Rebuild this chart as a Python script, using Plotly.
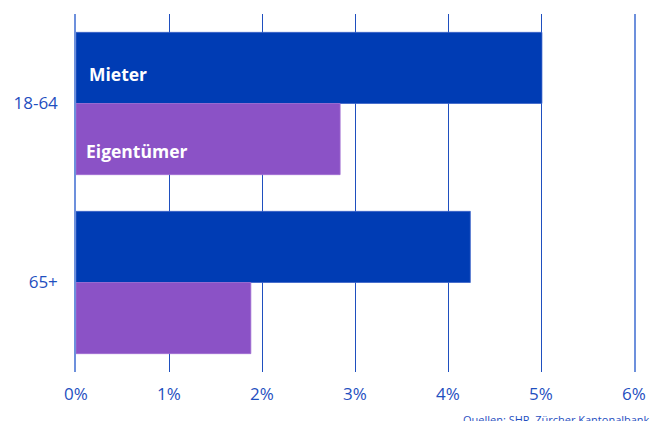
import plotly.graph_objects as go

categories = ["18-64", "65+"]
mieter = [5.01, 4.24]
eigentuemer = [2.84, 1.88]
series_names = ["Mieter", "Eigentümer"]
tick_vals = [0, 1, 2, 3, 4, 5, 6]
tick_text = ["0%", "1%", "2%", "3%", "4%", "5%", "6%"]
source = "Quellen: SHP, Zürcher Kantonalbank"

blue = "#003cb4"
purple = "#8b52c6"
axis_blue = "#1f4fbf"
edge_blue = "#6d90dc"
font_family = "Open Sans, Noto Sans, sans-serif"

fig = go.Figure()
fig.add_trace(go.Bar(y=categories, x=mieter, orientation="h", name=series_names[0],
                     marker=dict(color=blue, line=dict(width=1, color="rgba(60,100,200,0.8)")),
                     hoverinfo="x"))
fig.add_trace(go.Bar(y=categories, x=eigentuemer, orientation="h", name=series_names[1],
                     marker=dict(color=purple, line=dict(width=1, color="rgba(160,110,210,0.8)")),
                     hoverinfo="x"))

fig.update_layout(
    width=661, height=421,
    margin=dict(l=68, r=35, t=6, b=57, autoexpand=False),
    barmode="group", bargap=0.205, bargroupgap=0,
    showlegend=False,
    plot_bgcolor="white", paper_bgcolor="white",
    font=dict(family=font_family, color=axis_blue, size=17),
    xaxis=dict(range=[0, 6], tickvals=tick_vals, ticktext=tick_text,
               showgrid=True, gridcolor=axis_blue, gridwidth=1,
               zeroline=False, showline=False, ticks="", automargin=False,
               tickfont=dict(size=17, color=axis_blue), ticklabelstandoff=10),
    yaxis=dict(categoryorder="array", categoryarray=categories,
               autorange="reversed", showgrid=False, zeroline=False,
               showline=True, mirror=True, linecolor=edge_blue, linewidth=1.5,
               ticks="", ticklabelstandoff=13, automargin=False,
               tickfont=dict(size=17, color=axis_blue)),
)

fig.add_annotation(x=0, y=categories[0], xref="x", yref="y", text="<b>" + series_names[0] + "</b>",
                   showarrow=False, xanchor="left", yanchor="middle", xshift=11, yshift=30,
                   font=dict(size=17.5, color="white", family=font_family))
fig.add_annotation(x=0, y=categories[0], xref="x", yref="y", text="<b>" + series_names[1] + "</b>",
                   showarrow=False, xanchor="left", yanchor="middle", xshift=8, yshift=-47,
                   font=dict(size=17.5, color="white", family=font_family))
fig.add_annotation(x=1, y=0, xref="paper", yref="paper", text=source, showarrow=False,
                   xanchor="right", yanchor="top", xshift=18, yshift=-38,
                   font=dict(size=11, color=axis_blue, family=font_family))

fig.write_html("out.html")
